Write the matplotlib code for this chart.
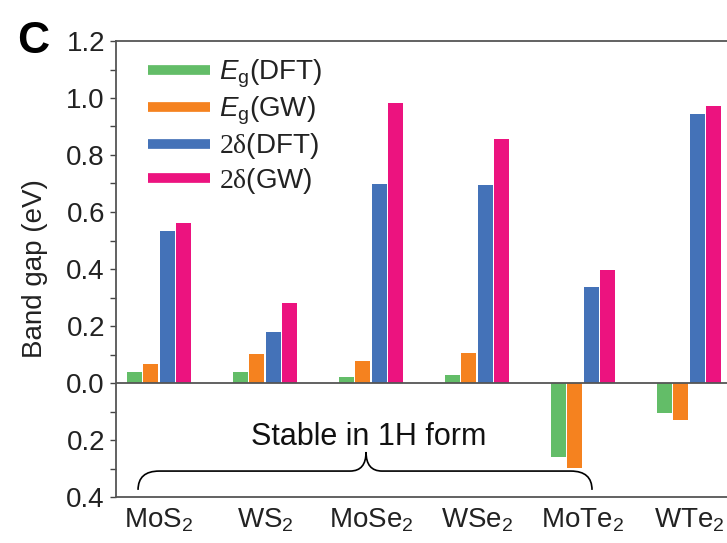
import matplotlib
matplotlib.use('Agg')
import matplotlib.pyplot as plt
import numpy as np
from matplotlib.path import Path
from matplotlib.patches import PathPatch
from matplotlib.lines import Line2D
from matplotlib.ticker import MultipleLocator, FuncFormatter

#%% Data (band gaps in eV)
materials = ['MoS$_2$', 'WS$_2$', 'MoSe$_2$', 'WSe$_2$', 'MoTe$_2$', 'WTe$_2$']
eg_dft = [0.040, 0.040, 0.022, 0.028, -0.258, -0.107]
eg_gw = [0.068, 0.102, 0.078, 0.105, -0.297, -0.131]
delta_dft = [0.533, 0.179, 0.700, 0.694, 0.336, 0.945]
delta_gw = [0.561, 0.280, 0.984, 0.855, 0.398, 0.973]

series = [eg_dft, eg_gw, delta_dft, delta_gw]
labels = [r'$\mathit{E}_{g}$(DFT)', r'$\mathit{E}_{g}$(GW)',
          r'$\mathrm{2\delta}$(DFT)', r'$\mathrm{2\delta}$(GW)']
colors = ['#63bd68', '#f5821f', '#4472b8', '#ec137f']

plt.rcParams['font.family'] = ['Liberation Sans', 'DejaVu Sans']
plt.rcParams['mathtext.fontset'] = 'custom'
plt.rcParams['mathtext.rm'] = 'Liberation Serif'
plt.rcParams['mathtext.it'] = 'Liberation Sans:italic'
plt.rcParams['mathtext.sf'] = 'Liberation Sans'
plt.rcParams['mathtext.default'] = 'regular'

W, H = 727, 543
fig = plt.figure(figsize=(W / 100, H / 100), dpi=100)
# axes runs past the right edge, like the cropped original
ax_left, ax_right, ax_top, ax_bot = 116, 795, 41, 497
ax = fig.add_axes([ax_left / W, (H - ax_bot) / H, (ax_right - ax_left) / W, (ax_bot - ax_top) / H])

x = np.arange(len(materials))
pitch = 0.155
width = 0.144
for k, (vals, col) in enumerate(zip(series, colors)):
    ax.bar(x + (k - 1.5) * pitch, vals, width=width, color=col, linewidth=0, zorder=2)

ax.axhline(0, color='#555555', lw=1.3, zorder=3)

ax.set_xlim(-0.406, 6.0)
ax.set_ylim(-0.4, 1.2)
ax.yaxis.set_major_locator(MultipleLocator(0.2))
ax.yaxis.set_minor_locator(MultipleLocator(0.1))
ax.yaxis.set_major_formatter(FuncFormatter(lambda v, p: '%.1f' % abs(v)))
ax.tick_params(axis='y', which='both', direction='out', length=4, width=1, color='#444444',
               labelsize=20, pad=4, labelcolor='#222222')
ax.set_xticks(x)
ax.set_xticklabels(materials)
ax.tick_params(axis='x', length=0, labelsize=20, pad=7, labelcolor='#222222')
ax.set_ylabel('Band gap (eV)', fontsize=20, color='#222222', labelpad=13)

for s in ['left', 'top', 'bottom']:
    ax.spines[s].set_color('#555555')
    ax.spines[s].set_linewidth(1.3)
ax.spines['right'].set_visible(False)

# curly brace under the stable compounds
x0, x1, xm = -0.198, 4.085, 1.953
yb, yh, yt = -0.375, -0.309, -0.242
r1, r2 = 0.2, 0.15
verts = [(x0, yb), (x0, yh), (x0 + r1, yh),
         (xm - r2, yh), (xm, yh), (xm, yt),
         (xm, yh), (xm + r2, yh),
         (x1 - r1, yh), (x1, yh), (x1, yb)]
codes = [Path.MOVETO, Path.CURVE3, Path.CURVE3,
         Path.LINETO, Path.CURVE3, Path.CURVE3,
         Path.CURVE3, Path.CURVE3,
         Path.LINETO, Path.CURVE3, Path.CURVE3]
ax.add_patch(PathPatch(Path(verts, codes), fill=False, lw=1.2, color='black', zorder=4))
ax.text(1.98, -0.218, 'Stable in 1H form', fontsize=22, ha='center', va='baseline', color='#111111')

handles = [Line2D([0], [0], color=c, lw=7, solid_capstyle='butt') for c in colors]
ax.legend(handles, labels, loc='upper left', bbox_to_anchor=(0.047, 0.963), frameon=False,
          fontsize=20, handlelength=2.25, handletextpad=0.3, labelspacing=0.16,
          borderpad=0, borderaxespad=0, labelcolor='#222222')

fig.text(17 / W, 1 - 53 / H, 'C', fontsize=32, fontweight='heavy', va='baseline', ha='left')

plt.savefig('out.png', dpi=100)
